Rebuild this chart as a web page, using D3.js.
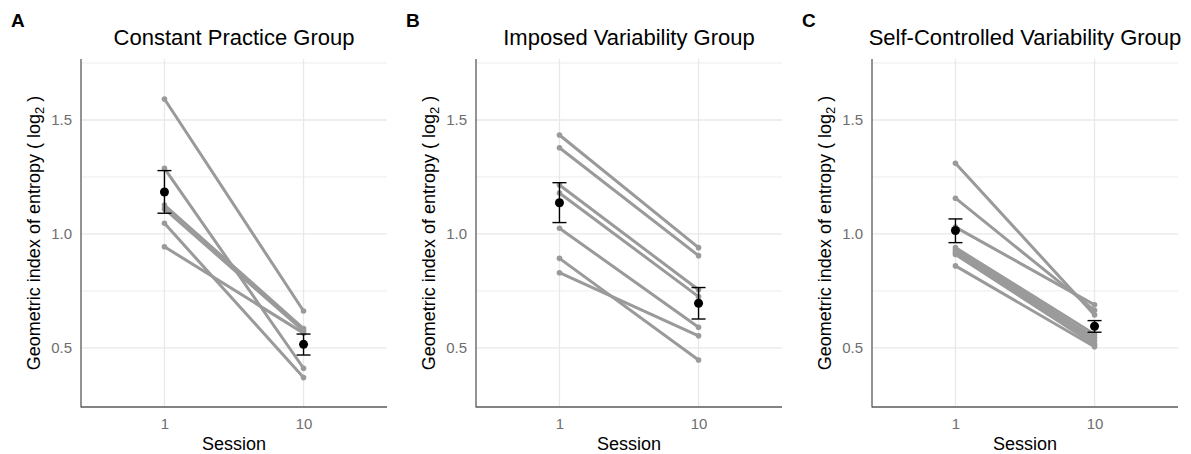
<!DOCTYPE html>
<html>
<head>
<meta charset="utf-8">
<script src="https://cdn.jsdelivr.net/npm/d3@7"></script>
<style>
  html, body { margin: 0; padding: 0; background: #fff; }
  svg { display: block; font-family: "Liberation Sans", Arial, sans-serif; }
</style>
</head>
<body>
<script>
// ---------- data ----------
const sessions = ["1", "10"];
const groupTitles = ["Constant Practice Group", "Imposed Variability Group", "Self-Controlled Variability Group"];
const panelLetters = ["A", "B", "C"];

const constS1  = [1.592, 1.288, 1.127, 1.110, 1.047, 0.944];
const constS10 = [0.662, 0.411, 0.585, 0.575, 0.370, 0.565];
const constMean = [1.184, 0.516];
const constLo   = [1.091, 0.469];
const constHi   = [1.278, 0.561];

const imposedS1  = [1.434, 1.378, 1.215, 1.180, 1.025, 0.893, 0.830];
const imposedS10 = [0.940, 0.905, 0.755, 0.725, 0.591, 0.447, 0.553];
const imposedMean = [1.137, 0.696];
const imposedLo   = [1.050, 0.627];
const imposedHi   = [1.225, 0.765];

const selfS1  = [1.310, 1.157, 1.030, 0.940, 0.930, 0.920, 0.910, 0.860];
const selfS10 = [0.645, 0.665, 0.689, 0.560, 0.545, 0.530, 0.515, 0.505];
const selfMean = [1.015, 0.595];
const selfLo   = [0.962, 0.569];
const selfHi   = [1.066, 0.620];

const yMajorTicks = [0.5, 1.0, 1.5];
const yMinorTicks = [0.75, 1.25, 1.75];
const yDomain = [0.241, 1.7675];

const panels = [
  { s1: constS1, s10: constS10, mean: constMean, lo: constLo, hi: constHi },
  { s1: imposedS1, s10: imposedS10, mean: imposedMean, lo: imposedLo, hi: imposedHi },
  { s1: selfS1, s10: selfS10, mean: selfMean, lo: selfLo, hi: selfHi }
];

// ---------- layout ----------
const W = 1191, H = 454;
const panelOffsets = [0, 395, 791];
const plotLeft = 81, plotRight = 387, plotTop = 59, plotBottom = 407;

const svg = d3.select("body").append("svg").attr("width", W).attr("height", H);
svg.append("rect").attr("width", W).attr("height", H).attr("fill", "#fff");

const y = d3.scaleLinear().domain(yDomain).range([plotBottom, plotTop]);

panels.forEach((p, i) => {
  const g = svg.append("g").attr("transform", `translate(${panelOffsets[i]},0)`);
  const x = d3.scalePoint().domain(sessions).range([plotLeft, plotRight]).padding(0.6);

  // grid
  g.selectAll(".ymin").data(yMinorTicks).join("line")
    .attr("x1", plotLeft).attr("x2", plotRight)
    .attr("y1", d => y(d)).attr("y2", d => y(d))
    .attr("stroke", "#ededed").attr("stroke-width", 1);
  g.selectAll(".ymaj").data(yMajorTicks).join("line")
    .attr("x1", plotLeft).attr("x2", plotRight)
    .attr("y1", d => y(d)).attr("y2", d => y(d))
    .attr("stroke", "#e8e8e8").attr("stroke-width", 1.3);
  g.selectAll(".xmaj").data(sessions).join("line")
    .attr("x1", d => x(d)).attr("x2", d => x(d))
    .attr("y1", plotTop).attr("y2", plotBottom)
    .attr("stroke", "#e8e8e8").attr("stroke-width", 1.3);

  // axes (labels only)
  const yAxis = d3.axisLeft(y).tickValues(yMajorTicks).tickSize(0).tickPadding(9).tickFormat(d3.format(".1f"));
  const ya = g.append("g").attr("transform", `translate(${plotLeft},0)`).call(yAxis);
  ya.attr("font-size", null).attr("font-family", null);
  ya.select(".domain").remove();
  ya.selectAll("text").style("font-size", "15px").attr("fill", "#6e6e6e");

  const xAxis = d3.axisBottom(x).tickSize(0).tickPadding(11);
  const xa = g.append("g").attr("transform", `translate(0,${plotBottom})`).call(xAxis);
  xa.attr("font-size", null).attr("font-family", null);
  xa.select(".domain").remove();
  xa.selectAll("text").style("font-size", "15px").attr("fill", "#6e6e6e");

  // axis lines
  g.append("line").attr("x1", plotLeft).attr("x2", plotLeft).attr("y1", plotTop).attr("y2", plotBottom + 0.6)
    .attr("stroke", "#5a5a5a").attr("stroke-width", 1.3);
  g.append("line").attr("x1", plotLeft).attr("x2", plotRight).attr("y1", plotBottom).attr("y2", plotBottom)
    .attr("stroke", "#5a5a5a").attr("stroke-width", 1.3);

  // participant lines
  const pairs = p.s1.map((v, k) => [v, p.s10[k]]);
  g.selectAll(".subj").data(pairs).join("line")
    .attr("x1", x(sessions[0])).attr("x2", x(sessions[1]))
    .attr("y1", d => y(d[0])).attr("y2", d => y(d[1]))
    .attr("stroke", "#9a9a9a").attr("stroke-width", 3).attr("stroke-linecap", "round");
  const pts = [];
  pairs.forEach(d => { pts.push([sessions[0], d[0]]); pts.push([sessions[1], d[1]]); });
  g.selectAll(".pt").data(pts).join("circle")
    .attr("cx", d => x(d[0])).attr("cy", d => y(d[1])).attr("r", 2.8)
    .attr("fill", "#9a9a9a");

  // error bars
  const eb = sessions.map((s, k) => ({ s, m: p.mean[k], lo: p.lo[k], hi: p.hi[k] }));
  g.selectAll(".ebv").data(eb).join("line")
    .attr("x1", d => x(d.s)).attr("x2", d => x(d.s))
    .attr("y1", d => y(d.lo)).attr("y2", d => y(d.hi))
    .attr("stroke", "#000").attr("stroke-width", 1.4);
  ["lo", "hi"].forEach(key => {
    g.selectAll(".cap" + key).data(eb).join("line")
      .attr("x1", d => x(d.s) - 7).attr("x2", d => x(d.s) + 7)
      .attr("y1", d => y(d[key])).attr("y2", d => y(d[key]))
      .attr("stroke", "#000").attr("stroke-width", 1.4);
  });
  g.selectAll(".mean").data(eb).join("circle")
    .attr("cx", d => x(d.s)).attr("cy", d => y(d.m)).attr("r", 4.5)
    .attr("fill", "#000");

  // titles
  const cx = (plotLeft + plotRight) / 2;
  g.append("text").attr("x", cx).attr("y", 45).attr("text-anchor", "middle")
    .attr("font-size", 22).attr("fill", "#000").text(groupTitles[i]);
  g.append("text").attr("x", 11).attr("y", 27).attr("font-size", 19).attr("font-weight", "bold")
    .attr("fill", "#000").text(panelLetters[i]);
  g.append("text").attr("x", cx).attr("y", 450).attr("text-anchor", "middle")
    .attr("font-size", 18).attr("fill", "#000").text("Session");

  const yl = g.append("text")
    .attr("transform", `translate(40,${(plotTop + plotBottom) / 2}) rotate(-90)`)
    .attr("text-anchor", "middle").attr("font-size", 18).attr("fill", "#000");
  yl.append("tspan").text("Geometric index of entropy ( log");
  yl.append("tspan").attr("font-size", 13).attr("dy", 4).text("2");
  yl.append("tspan").attr("dy", -4).text(" )");
});
</script>
</body>
</html>
